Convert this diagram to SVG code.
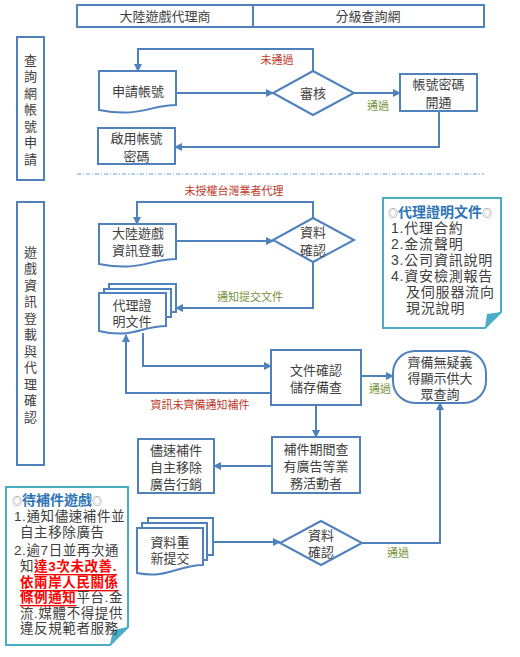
<svg xmlns="http://www.w3.org/2000/svg" width="520" height="657" viewBox="0 0 520 657">
<defs>
<style>
text{font-family:"Liberation Sans","Noto Sans CJK TC",sans-serif;dominant-baseline:central;text-anchor:middle}
.t{font-size:13px;fill:#404040}
.box{fill:#fff;stroke:#4f81bd;stroke-width:2}
.note{fill:#fff;stroke:#4bacc6;stroke-width:2}
.fold{fill:#4bacc6}
.c{fill:none;stroke:#4f81bd;stroke-width:2}
.red{font-size:11px;fill:#c0392b}
.grn{font-size:11px;fill:#77933c}
.n{font-size:14px;fill:#404040;text-anchor:start;letter-spacing:0.8px}
.n2{font-size:13.5px;fill:#404040;text-anchor:start;letter-spacing:0.6px}
.nt{font-size:14px;fill:#2e75b6;font-weight:bold;text-anchor:start}
.sym{font-family:"Noto Sans CJK TC",sans-serif;font-size:10px;fill:#7f7f7f;font-weight:normal}
.rr{fill:#ff0000;font-weight:bold;text-decoration:underline}
</style>
<marker id="ah" markerUnits="userSpaceOnUse" markerWidth="8" markerHeight="8" refX="7" refY="4" orient="auto">
<path d="M0,0 L8,4 L0,8 z" fill="#4f81bd"/>
</marker>
</defs>
<rect width="520" height="657" fill="#fff"/>

<g id="header">
<rect x="77" y="5" width="407" height="22" class="box"/>
<line x1="253" y1="5" x2="253" y2="27" stroke="#4f81bd" stroke-width="2"/>
<text x="165" y="16" class="t">大陸遊戲代理商</text>
<text x="368" y="16" class="t">分級查詢網</text>
</g>

<g id="lane1">
<rect x="17" y="37" width="27" height="143" class="box"/>
<text x="30.5" y="60" class="t">查</text>
<text x="30.5" y="76.5" class="t">詢</text>
<text x="30.5" y="93" class="t">網</text>
<text x="30.5" y="109.5" class="t">帳</text>
<text x="30.5" y="126" class="t">號</text>
<text x="30.5" y="142.5" class="t">申</text>
<text x="30.5" y="159" class="t">請</text>
</g>

<g id="lane2">
<rect x="17" y="202" width="27" height="263" class="box"/>
<text x="30.5" y="252" class="t">遊</text>
<text x="30.5" y="268.5" class="t">戲</text>
<text x="30.5" y="285" class="t">資</text>
<text x="30.5" y="301.5" class="t">訊</text>
<text x="30.5" y="318" class="t">登</text>
<text x="30.5" y="334.5" class="t">載</text>
<text x="30.5" y="351" class="t">與</text>
<text x="30.5" y="367.5" class="t">代</text>
<text x="30.5" y="384" class="t">理</text>
<text x="30.5" y="400.5" class="t">確</text>
<text x="30.5" y="417" class="t">認</text>
</g>

<line id="separator" x1="77" y1="174" x2="484" y2="174" stroke="#9dc3e6" stroke-width="1.5" stroke-dasharray="4,2,1,2"/>

<g id="connectors">
<path class="c" d="M176,93 H273" marker-end="url(#ah)"/>
<path class="c" d="M354,93 H400" marker-end="url(#ah)"/>
<path class="c" d="M313,71 V49 H138 V71" marker-end="url(#ah)"/>
<path class="c" d="M439,111 V147 H175" marker-end="url(#ah)"/>
<path class="c" d="M176,241 H273" marker-end="url(#ah)"/>
<path class="c" d="M313,218 V202 H137 V224" marker-end="url(#ah)"/>
<path class="c" d="M313,262 V308 H176" marker-end="url(#ah)"/>
<path class="c" d="M143,333 V366 H271" marker-end="url(#ah)"/>
<path class="c" d="M271,393 H126 V335" marker-end="url(#ah)"/>
<path class="c" d="M361,376 H393" marker-end="url(#ah)"/>
<path class="c" d="M316,405 V437" marker-end="url(#ah)"/>
<path class="c" d="M272,466 H214" marker-end="url(#ah)"/>
<path class="c" d="M213,542 H280" marker-end="url(#ah)"/>
<path class="c" d="M362,543 H440 V403" marker-end="url(#ah)"/>
<text x="277" y="60" class="red">未通過</text>
<text x="378" y="106" class="grn">通過</text>
<text x="234" y="191" class="red">未授權台灣業者代理</text>
<text x="250" y="297" class="grn">通知提交文件</text>
<text x="200" y="405" class="red">資訊未齊備通知補件</text>
<text x="380" y="389" class="grn">通過</text>
<text x="398" y="553" class="grn">通過</text>
</g>

<g id="apply">
<path class="box" d="M99,71 H176 V105 C150,105 140,118 99,110 Z"/>
<text x="138" y="91" class="t">申請帳號</text>
</g>

<g id="review">
<polygon class="box" points="313,71 354,93 313,115 273,93"/>
<text x="313" y="93" class="t">審核</text>
</g>

<g id="open">
<rect class="box" x="400" y="74" width="77" height="37"/>
<text x="438.5" y="84" class="t">帳號密碼</text>
<text x="438.5" y="102" class="t">開通</text>
</g>

<g id="enable">
<rect class="box" x="98" y="128" width="77" height="36"/>
<text x="136.5" y="138" class="t">啟用帳號</text>
<text x="136.5" y="156" class="t">密碼</text>
</g>

<g id="register">
<path class="box" d="M99,224 H176 V259 C150,259 140,272 99,264 Z"/>
<text x="138" y="233" class="t">大陸遊戲</text>
<text x="138" y="250" class="t">資訊登載</text>
</g>

<g id="check1">
<polygon class="box" points="313,218 354,240 313,262 273,240"/>
<text x="313" y="232" class="t">資料</text>
<text x="313" y="250" class="t">確認</text>
</g>

<g id="proofdocs">
<rect class="box" x="109" y="284" width="67" height="28"/>
<rect class="box" x="104" y="289" width="67" height="28"/>
<path class="box" d="M99,293 H166 V326 C142,326 132,339 99,331 Z"/>
<text x="132" y="305" class="t">代理證</text>
<text x="132" y="321" class="t">明文件</text>
</g>

<g id="note-proof">
<path class="note" d="M383,198 H501 V312 L485,328 H383 Z"/>
<polygon class="fold" points="501,312 485,328 487,314"/>
<text x="388" y="212" class="nt"><tspan class="sym">◎</tspan>代理證明文件<tspan class="sym">◎</tspan></text>
<text x="391" y="228" class="n">1.代理合約</text>
<text x="391" y="244" class="n">2.金流聲明</text>
<text x="391" y="260" class="n">3.公司資訊說明</text>
<text x="391" y="276" class="n">4.資安檢測報告</text>
<text x="406" y="292" class="n">及伺服器流向</text>
<text x="406" y="308" class="n">現況說明</text>
</g>

<g id="store">
<rect class="box" x="271" y="350" width="90" height="55"/>
<text x="316" y="370" class="t">文件確認</text>
<text x="316" y="387" class="t">儲存備查</text>
</g>

<g id="publish">
<rect class="box" x="393" y="351" width="93" height="52" rx="22" ry="22"/>
<text x="440" y="362" class="t">齊備無疑義</text>
<text x="440" y="378" class="t">得顯示供大</text>
<text x="440" y="394" class="t">眾查詢</text>
</g>

<g id="adcheck">
<rect class="box" x="272" y="437" width="88" height="56"/>
<text x="316" y="449" class="t">補件期間查</text>
<text x="316" y="466" class="t">有廣告等業</text>
<text x="316" y="483" class="t">務活動者</text>
</g>

<g id="removead">
<rect class="box" x="138" y="439" width="76" height="54"/>
<text x="176" y="450" class="t">儘速補件</text>
<text x="176" y="467" class="t">自主移除</text>
<text x="176" y="484" class="t">廣告行銷</text>
</g>

<g id="resubmit">
<rect class="box" x="148" y="518" width="65" height="37"/>
<rect class="box" x="142" y="523" width="65" height="37"/>
<path class="box" d="M137,528 H203 V565 C178,565 168,579 137,573 Z"/>
<text x="170" y="542" class="t">資料重</text>
<text x="170" y="558" class="t">新提交</text>
</g>

<g id="check2">
<polygon class="box" points="321,521 362,543 321,565 280,543"/>
<text x="321" y="535" class="t">資料</text>
<text x="321" y="552" class="t">確認</text>
</g>

<g id="note-pending">
<path class="note" d="M6,487 H128 V627 L110,645 H6 Z"/>
<polygon class="fold" points="128,627 110,645 113,630"/>
<text x="12" y="500" class="nt"><tspan class="sym">◎</tspan>待補件遊戲<tspan class="sym">◎</tspan></text>
<text x="14" y="516" class="n2">1.通知儘速補件並</text>
<text x="20" y="532" class="n2">自主移除廣告</text>
<text x="14" y="550" class="n2">2.逾7日並再次通</text>
<text x="20" y="566" class="n2">知<tspan class="rr">達3次未改善.</tspan></text>
<text x="20" y="582" class="n2"><tspan class="rr">依兩岸人民關係</tspan></text>
<text x="20" y="597" class="n2"><tspan class="rr">條例通知</tspan>平台.金</text>
<text x="20" y="613" class="n2">流.媒體不得提供</text>
<text x="20" y="628" class="n2">違反規範者服務</text>
</g>
</svg>
